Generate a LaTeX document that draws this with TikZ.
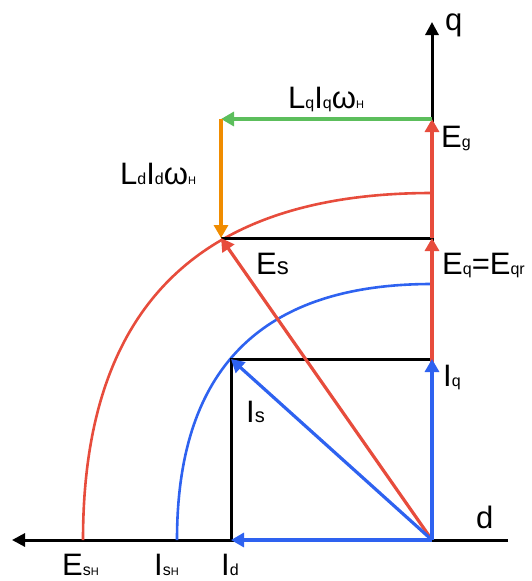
\documentclass[tikz,border=0pt]{standalone}
\usepackage{fontspec}
\setmainfont{Liberation Sans}
\usepackage{tikz}
\usetikzlibrary{arrows.meta}
\definecolor{vermelho}{RGB}{231,76,60}
\definecolor{azul}{RGB}{46,98,240}
\definecolor{verde}{RGB}{92,190,92}
\definecolor{laranja}{RGB}{240,140,0}
\newcommand{\lsub}[1]{{\fontsize{16}{18}\selectfont #1}}
\newcommand{\lssub}[1]{{\fontsize{11}{12}\selectfont #1}}

\begin{document}
\begin{tikzpicture}[x=1pt, y=-1pt,
    eixo/.style={-{Triangle[length=13pt, width=13pt]}, line width=3pt, black},
    linha/.style={line width=3pt, black},
    setaR/.style={-{Triangle[length=13pt, width=14pt]}, line width=3.2pt, vermelho},
    setaB/.style={-{Triangle[length=13pt, width=14pt]}, line width=3.2pt, azul},
    setaG/.style={-{Triangle[length=13pt, width=14pt]}, line width=3.2pt, verde},
    setaL/.style={-{Triangle[length=13pt, width=14pt]}, line width=3.2pt, laranja},
    arco/.style={line width=2.6pt},
    rotulo/.style={anchor=base west, inner sep=0pt, font=\fontsize{31}{36}\selectfont}
  ]
    \useasboundingbox (0,0) rectangle (531,581);

    % pontos
    \coordinate (O) at (432,540);
    \coordinate (dfim) at (12,540);
    \coordinate (ddir) at (508,540);
    \coordinate (qfim) at (432,22);
    \coordinate (Id) at (231,540);
    \coordinate (Iq) at (432,359);
    \coordinate (Is) at (231,359);
    \coordinate (Eq) at (432,238);
    \coordinate (Eg) at (432,119);
    \coordinate (Es) at (221,238);
    \coordinate (Ld) at (221,119);
    \coordinate (ISH) at (177,540);
    \coordinate (ISHq) at (432,284);
    \coordinate (ESH) at (83,540);
    \coordinate (ESHq) at (432,193);

    % eixos
    \draw[eixo] (ddir) -- (dfim);
    \draw[eixo] (O) -- (qfim);

    % arcos
    \draw[arco, vermelho] (ESH) .. controls (83,307) and (199,193) .. (ESHq);
    \draw[arco, azul] (ISH) .. controls (177,369) and (261,284) .. (ISHq);

    % projecoes
    \draw[linha] (Id) -- (Is) -- (Iq);
    \draw[linha] (Es) -- (Eq);

    % vetores
    \draw[setaR] (O) -- (Eq);
    \draw[setaR] (Eq) -- (Eg);
    \draw[setaR] (O) -- (Es);
    \draw[setaG] (Eg) -- (Ld);
    \draw[setaL] (Ld) -- (Es);
    \draw[setaB] (O) -- (Id);
    \draw[setaB] (O) -- (Iq);
    \draw[setaB] (O) -- (Is);

    % rotulos
    \node[rotulo] (lq) at (445,30.5) {q};
    \node[rotulo] (ld) at (476,528) {d};
    \node[rotulo] (lEg) at (441,147) {E\lsub{g}};
    \node[rotulo] (lEq) at (442,274) {E\lsub{q}=E\lsub{qr}};
    \node[rotulo] (lIq) at (443,386) {I\lsub{q}};
    \node[rotulo] (lEs) at (256,274) {E{\fontsize{24}{26}\selectfont s}};
    \node[rotulo] (lIs) at (246,422) {I{\fontsize{20}{22}\selectfont s}};
    \node[rotulo] (lLd) at (120,184) {L\lsub{d}I\lsub{d}ω\lssub{H}};
    \node[rotulo] (lLq) at (288,108) {L\lsub{q}I\lsub{q}ω\lssub{H}};
    \node[rotulo] (lESH) at (62,575) {E\lsub{s}\lssub{H}};
    \node[rotulo] (lISH) at (154,575) {I\lsub{s}\lssub{H}};
    \node[rotulo] (lId) at (221,575) {I\lsub{d}};
  \end{tikzpicture}
\end{document}
